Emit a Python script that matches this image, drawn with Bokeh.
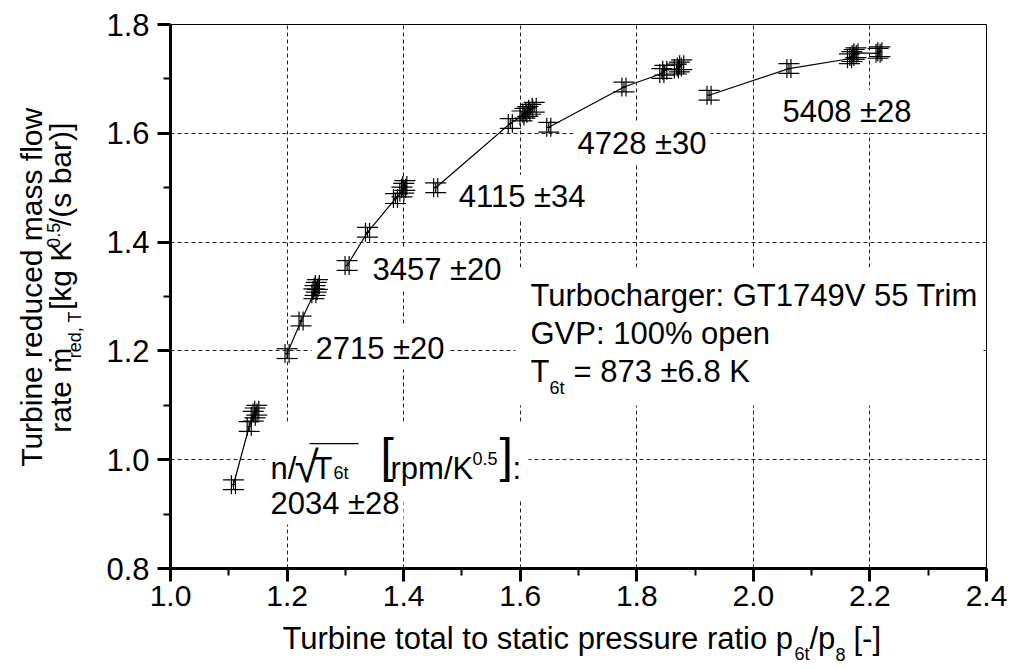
import math
from bokeh.plotting import figure
from bokeh.layouts import column, row
from bokeh.models import (ColumnDataSource, Whisker, TeeHead, Label, BoxAnnotation,
                          FixedTicker, PrintfTickFormatter, Range1d)
from bokeh.embed import file_html
from bokeh.resources import INLINE

# ---------------- data ----------------
speed_labels = ["2034 ±28", "2715 ±20", "3457 ±20", "4115 ±34", "4728 ±30", "5408 ±28"]

pr_2034 = [1.108, 1.135, 1.142, 1.145, 1.148]
mf_2034 = [0.954, 1.061, 1.080, 1.086, 1.091]

pr_2715 = [1.200, 1.224, 1.246, 1.248, 1.250, 1.252]
mf_2715 = [1.195, 1.255, 1.305, 1.311, 1.317, 1.322]

pr_3457 = [1.303, 1.338, 1.386, 1.397, 1.400, 1.402]
mf_3457 = [1.357, 1.418, 1.480, 1.492, 1.499, 1.504]

pr_4115 = [1.455, 1.583, 1.603, 1.608, 1.613, 1.618, 1.624]
mf_4115 = [1.500, 1.618, 1.632, 1.637, 1.640, 1.644, 1.648]

pr_4728 = [1.649, 1.778, 1.843, 1.848, 1.868, 1.873, 1.877]
mf_4728 = [1.611, 1.685, 1.710, 1.716, 1.718, 1.722, 1.726]

pr_5408 = [1.924, 2.061, 2.165, 2.169, 2.173, 2.176, 2.214, 2.217]
mf_5408 = [1.670, 1.719, 1.737, 1.741, 1.745, 1.748, 1.747, 1.750]

pr_err = 0.0035    # +- pressure-ratio uncertainty
mf_err = 0.009     # +- mass-flow uncertainty

x_ticks = [1.0, 1.2, 1.4, 1.6, 1.8, 2.0, 2.2, 2.4]
x_minor = [1.1, 1.3, 1.5, 1.7, 1.9, 2.1, 2.3]
y_ticks = [0.8, 1.0, 1.2, 1.4, 1.6, 1.8]
y_minor = [0.9, 1.1, 1.3, 1.5, 1.7]

groups_pr = [pr_2034, pr_2715, pr_3457, pr_4115, pr_4728, pr_5408]
groups_mf = [mf_2034, mf_2715, mf_3457, mf_4115, mf_4728, mf_5408]

# ---------------- layout geometry (page pixels) ----------------
FONT = "Liberation Sans"
X0, X1, Y0, Y1 = 1.0, 2.4, 0.8, 1.8
FL, FT, FW, FH = 170, 24, 816, 544      # plot frame on the page
YT_W = 98                              # width of the y-title strip
TOP_H = 621                            # height of the upper row
TOT_W, TOT_H = 1010, 669

# ---------------- main figure ----------------
p = figure(frame_width=FW, frame_height=FH,
           x_range=Range1d(X0, X1), y_range=Range1d(Y0, Y1),
           output_backend="svg", toolbar_location=None,
           min_border_left=FL - YT_W, min_border_right=TOT_W - FL - FW,
           min_border_top=FT, min_border_bottom=TOP_H - FT - FH)
p.background_fill_color = "white"
p.border_fill_color = "white"
p.outline_line_color = "black"
p.outline_line_width = 1

p.xaxis.ticker = FixedTicker(ticks=x_ticks, minor_ticks=x_minor)
p.yaxis.ticker = FixedTicker(ticks=y_ticks, minor_ticks=y_minor)
for ax in (p.xaxis[0], p.yaxis[0]):
    ax.formatter = PrintfTickFormatter(format="%.1f")
    ax.axis_line_width = 3
    ax.axis_line_color = "black"
    ax.major_tick_line_width = 3
    ax.major_tick_line_color = "black"
    ax.minor_tick_line_width = 2
    ax.minor_tick_line_color = "black"
    ax.major_tick_out = 13
    ax.major_tick_in = 0
    ax.minor_tick_out = 7
    ax.minor_tick_in = 0
    ax.major_label_text_font = FONT
    ax.major_label_text_font_size = "31px"
    ax.major_label_text_color = "black"
p.xaxis.major_label_text_font_size = "30px"
p.xaxis.major_label_standoff = 4
p.yaxis.major_label_standoff = 8

for g in (p.xgrid[0], p.ygrid[0]):
    g.grid_line_color = "#222222"
    g.grid_line_width = 1
    g.grid_line_dash = "4 3"


def px2x(px):
    return X0 + (px - FL) / FW * (X1 - X0)


def px2y(py):
    return Y1 - (py - FT) / FH * (Y1 - Y0)


# ---------------- lines and error-bar markers ----------------
p.multi_line(xs=groups_pr, ys=groups_mf, line_color="black", line_width=1.2)

all_pr = [v for g in groups_pr for v in g]
all_mf = [v for g in groups_mf for v in g]
src = ColumnDataSource(dict(
    x=all_pr, y=all_mf,
    xl=[v - pr_err for v in all_pr], xu=[v + pr_err for v in all_pr],
    yl=[v - mf_err for v in all_mf], yu=[v + mf_err for v in all_mf]))

wy = Whisker(source=src, base="x", lower="yl", upper="yu", dimension="height",
             line_color="black", line_width=1.2,
             lower_head=TeeHead(size=21, line_color="black", line_width=1.2),
             upper_head=TeeHead(size=21, line_color="black", line_width=1.2))
wx = Whisker(source=src, base="y", lower="xl", upper="xu", dimension="width",
             line_color="black", line_width=1.2,
             lower_head=TeeHead(size=19, line_color="black", line_width=1.2),
             upper_head=TeeHead(size=19, line_color="black", line_width=1.2))
p.add_layout(wy)
p.add_layout(wx)


# ---------------- title strips (text only) ----------------
def strip(w, h):
    f = figure(width=w, height=h, x_range=Range1d(0, w), y_range=Range1d(-h, 0),
               x_axis_type=None, y_axis_type=None, toolbar_location=None,
               output_backend="svg", min_border=0)
    f.min_border_left = f.min_border_right = f.min_border_top = f.min_border_bottom = 0
    f.outline_line_color = None
    f.background_fill_color = "white"
    f.border_fill_color = "white"
    return f


yfig = strip(YT_W, TOP_H)
xfig = strip(TOT_W, TOT_H - TOP_H)

SHIFT = 0.4    # baseline correction, fraction of the font size
PAD = 4


def lab(fig, text, px, py, size=31, angle=0.0, bg=False, align="left"):
    # (px, py) is the wanted page position of the text baseline start
    d = SHIFT * size
    if angle == 0.0:
        py -= d
        if bg:
            px -= PAD
    else:
        px -= d
    if fig is p:
        x, y = px2x(px), px2y(py)
    elif fig is xfig:
        x, y = px, -(py - TOP_H)
    else:
        x, y = px, -py
    kw = dict(x=x, y=y, text=text, text_font=FONT,
              text_font_size=f"{size}px", text_color="black", text_align=align,
              text_baseline="alphabetic", angle=angle)
    if bg:
        kw.update(background_fill_color="white", background_fill_alpha=1.0, padding=PAD)
    fig.add_layout(Label(**kw))


def box(l, r, t, b, color="white"):
    p.add_layout(BoxAnnotation(left=px2x(l), right=px2x(r), top=px2y(t), bottom=px2y(b),
                               fill_color=color, fill_alpha=1.0, line_alpha=0.0,
                               level="annotation"))


# speed-line labels
lab(p, speed_labels[1], 315, 360, bg=True)
lab(p, speed_labels[2], 372, 281.7, bg=True)
lab(p, speed_labels[3], 458.3, 208.3, bg=True)
lab(p, speed_labels[4], 577, 155, bg=True)
lab(p, speed_labels[5], 782, 123.3, bg=True)

# n / sqrt(T6t) [rpm/K^0.5]: label
box(265, 528, 423, 500)
lab(p, speed_labels[0], 270, 515, bg=True)
lab(p, "n/", 270, 480)
lab(p, "√", 294, 484, size=44)
box(309, 358, 442.5, 443.8, color="black")
lab(p, "T", 313, 480)
lab(p, "6t", 333, 480, size=18)
lab(p, "[", 380, 474, size=48)
lab(p, "rpm/K", 390, 480)
lab(p, "0.5", 472, 465, size=18)
lab(p, "]", 499, 474, size=48)
lab(p, ":", 512, 480)

# turbocharger info box
box(515, 983, 267, 405)
lab(p, "Turbocharger: GT1749V 55 Trim", 530, 307.3)
lab(p, "GVP: 100% open", 530, 345)
lab(p, "T", 530, 383.3)
lab(p, "6t", 549, 395, size=18)
lab(p, "= 873 ±6.8 K", 573, 383.3)

# x axis title
lab(xfig, "Turbine total to static pressure ratio p", 282, 650)
lab(xfig, "6t", 794, 661, size=18)
lab(xfig, "/p", 809, 650)
lab(xfig, "8", 835, 661, size=18)
lab(xfig, "[-]", 853, 650)

# y axis title (rotated)
A = math.pi / 2
lab(yfig, "Turbine reduced mass flow", 43, 300, size=30, angle=A, align="center")
lab(yfig, "rate ṁ", 72, 466, size=30, angle=A)
lab(yfig, "red, T", 82, 381, size=18, angle=A)
lab(yfig, "[kg K", 72, 326, size=30, angle=A)
lab(yfig, "0.5", 60, 255, size=18, angle=A)
lab(yfig, "/(s bar)]", 72, 230, size=30, angle=A)

layout = column(row(yfig, p), xfig)
open("out.html", "w").write(file_html(layout, INLINE))
